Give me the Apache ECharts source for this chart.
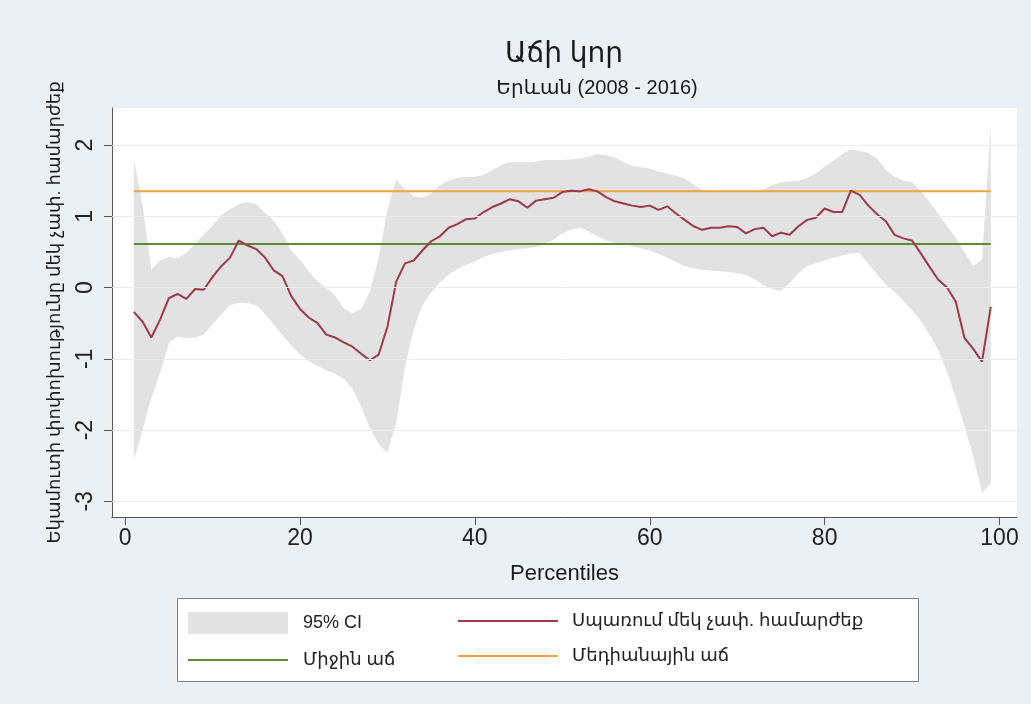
<!DOCTYPE html>
<html>
<head>
<meta charset="utf-8">
<script src="https://cdn.jsdelivr.net/npm/echarts@6/dist/echarts.min.js"></script>
<style>
html,body{margin:0;padding:0;background:#eaf0f3;}
#c{width:1031px;height:704px;}
</style>
</head>
<body>
<div id="c"></div>
<script>
// ---- data ----
const percentiles = [1,2,3,4,5,6,7,8,9,10,11,12,13,14,15,16,17,18,19,20,21,22,23,24,25,26,27,28,29,30,31,32,33,34,35,36,37,38,39,40,41,42,43,44,45,46,47,48,49,50,51,52,53,54,55,56,57,58,59,60,61,62,63,64,65,66,67,68,69,70,71,72,73,74,75,76,77,78,79,80,81,82,83,84,85,86,87,88,89,90,91,92,93,94,95,96,97,98,99];
const growth = [-0.34,-0.48,-0.70,-0.45,-0.15,-0.09,-0.16,-0.02,-0.03,0.15,0.30,0.42,0.66,0.59,0.54,0.42,0.24,0.16,-0.12,-0.30,-0.42,-0.50,-0.66,-0.70,-0.77,-0.83,-0.93,-1.02,-0.94,-0.55,0.08,0.34,0.38,0.52,0.65,0.72,0.84,0.89,0.96,0.97,1.06,1.13,1.18,1.24,1.21,1.12,1.22,1.24,1.26,1.34,1.36,1.35,1.38,1.35,1.27,1.21,1.18,1.15,1.13,1.15,1.09,1.14,1.04,0.95,0.86,0.81,0.84,0.84,0.86,0.85,0.76,0.82,0.84,0.72,0.77,0.74,0.86,0.95,0.98,1.11,1.06,1.06,1.36,1.30,1.15,1.03,0.93,0.74,0.69,0.66,0.48,0.29,0.11,0.00,-0.20,-0.71,-0.86,-1.04,-0.27];
const ciUpper = [1.80,1.15,0.25,0.38,0.43,0.41,0.49,0.61,0.74,0.87,1.02,1.10,1.17,1.20,1.17,1.05,0.94,0.76,0.52,0.39,0.23,0.09,0.00,-0.11,-0.29,-0.36,-0.30,-0.05,0.42,1.10,1.52,1.38,1.28,1.26,1.32,1.44,1.50,1.54,1.55,1.56,1.58,1.65,1.72,1.76,1.76,1.76,1.77,1.79,1.79,1.79,1.80,1.81,1.84,1.87,1.86,1.83,1.76,1.71,1.69,1.67,1.63,1.60,1.57,1.53,1.45,1.37,1.36,1.35,1.34,1.34,1.34,1.35,1.38,1.44,1.48,1.49,1.50,1.54,1.60,1.70,1.78,1.87,1.94,1.92,1.89,1.81,1.65,1.55,1.50,1.48,1.36,1.20,1.04,0.86,0.70,0.50,0.30,0.40,2.28];
const ciLower = [-2.42,-2.00,-1.55,-1.20,-0.78,-0.69,-0.71,-0.70,-0.66,-0.52,-0.37,-0.25,-0.21,-0.22,-0.25,-0.37,-0.52,-0.67,-0.81,-0.94,-1.03,-1.10,-1.16,-1.21,-1.28,-1.42,-1.67,-1.97,-2.20,-2.32,-1.90,-1.12,-0.58,-0.25,-0.07,0.07,0.18,0.26,0.32,0.37,0.43,0.47,0.50,0.52,0.54,0.55,0.57,0.62,0.67,0.76,0.81,0.84,0.79,0.72,0.66,0.63,0.61,0.58,0.55,0.52,0.47,0.42,0.36,0.30,0.27,0.25,0.24,0.23,0.22,0.20,0.18,0.12,0.03,-0.02,-0.05,0.06,0.20,0.30,0.34,0.38,0.42,0.45,0.48,0.48,0.33,0.19,0.04,-0.06,-0.18,-0.32,-0.47,-0.66,-0.88,-1.18,-1.55,-1.95,-2.37,-2.88,-2.75];
const meanGrowth = 0.61;
const medianGrowth = 1.35;
const lineRange = [1, 99];
const xTicks = [0, 20, 40, 60, 80, 100];
const yTicks = [-3, -2, -1, 0, 1, 2];

const titleText = 'Աճի կոր';
const subtitleText = 'Երևան (2008 - 2016)';
const xName = 'Percentiles';
const yName = 'Եկամուտի փոփոխությունը մեկ չափ. համարժեք';
const nameCI = '95% CI';
const nameCurve = 'Սպառում մեկ չափ. համարժեք';
const nameMean = 'Միջին աճ';
const nameMedian = 'Մեդիանային աճ';

// ---- build ----
const FONT = "'Liberation Sans','DejaVu Sans',sans-serif";
const curveData = percentiles.map((p, i) => [p, growth[i]]);
const meanData = lineRange.map(p => [p, meanGrowth]);
const medianData = lineRange.map(p => [p, medianGrowth]);
const CI_COLOR = '#e2e2e2';
const LINE_ICON = 'path://M0,0 L100,0 L100,2 L0,2 Z';

const chart = echarts.init(document.getElementById('c'), null, {renderer: 'canvas'});
chart.setOption({
  animation: false,
  backgroundColor: '#eaf0f3',
  title: [
    {text: titleText, left: 564, textAlign: 'center', top: 40, padding: 0,
     textStyle: {fontFamily: FONT, fontSize: 28, fontWeight: 'normal', color: '#1a1a1a'}},
    {text: subtitleText, left: 597, textAlign: 'center', top: 78, padding: 0,
     textStyle: {fontFamily: FONT, fontSize: 20, fontWeight: 'normal', color: '#1a1a1a'}}
  ],
  grid: {left: 112, right: 14, top: 108, bottom: 187, show: true, backgroundColor: '#ffffff', borderWidth: 0},
  xAxis: {
    type: 'value', min: -1.5, max: 102,
    name: xName, nameLocation: 'middle', nameGap: 46,
    nameTextStyle: {fontFamily: FONT, fontSize: 22, color: '#1a1a1a'},
    axisLine: {onZero: false, lineStyle: {color: '#555', width: 1}},
    axisTick: {show: true, length: 8, customValues: xTicks, lineStyle: {color: '#555'}},
    axisLabel: {customValues: xTicks, fontFamily: FONT, fontSize: 23, color: '#222', margin: 10},
    splitLine: {show: false}
  },
  yAxis: {
    type: 'value', min: -3.22, max: 2.52,
    name: yName, nameLocation: 'middle', nameRotate: 90, nameGap: 48,
    nameTextStyle: {fontFamily: FONT, fontSize: 18, color: '#1a1a1a'},
    axisLine: {show: true, onZero: false, lineStyle: {color: '#555', width: 1}},
    axisTick: {show: true, length: 8, customValues: yTicks, lineStyle: {color: '#555'}},
    axisLabel: {customValues: yTicks, rotate: 90, fontFamily: FONT, fontSize: 23, color: '#222', margin: 15},
    splitLine: {show: false}
  },
  legend: [
    {orient: 'vertical', left: 183, top: 607, itemWidth: 100, itemHeight: 22, itemGap: 17, z: 10,
     textStyle: {fontFamily: FONT, fontSize: 18, color: '#222', padding: [0, 0, 0, 10]},
     data: [{name: nameCI, icon: 'rect', itemStyle: {color: CI_COLOR}}, {name: nameMean, icon: LINE_ICON}]},
    {orient: 'vertical', left: 453, top: 607, itemWidth: 100, itemHeight: 22, itemGap: 17, z: 10,
     textStyle: {fontFamily: FONT, fontSize: 18, color: '#222', padding: [0, 0, 0, 9]},
     data: [{name: nameCurve, icon: LINE_ICON}, {name: nameMedian, icon: LINE_ICON}]}
  ],
  graphic: [
    {type: 'rect', z: 0, shape: {x: 177.5, y: 598.5, width: 741, height: 83},
     style: {fill: '#ffffff', stroke: '#7d7d7d', lineWidth: 1}}
  ],
  series: [
    {name: 'grid', type: 'line', data: [], z: 0, silent: true,
     markLine: {silent: true, symbol: ['none', 'none'], label: {show: false},
       lineStyle: {color: '#ebebeb', type: 'solid', width: 1},
       data: yTicks.map(v => ({yAxis: v}))}},
    {name: nameCI, type: 'custom', z: 1, silent: true,
     itemStyle: {color: CI_COLOR},
     data: [[50, 0]],
     renderItem: function (params, api) {
       const pts = [];
       for (let i = 0; i < percentiles.length; i++) pts.push(api.coord([percentiles[i], ciUpper[i]]));
       for (let i = percentiles.length - 1; i >= 0; i--) pts.push(api.coord([percentiles[i], ciLower[i]]));
       return {type: 'polygon', shape: {points: pts}, style: {fill: CI_COLOR}};
     }},
    {name: nameMean, type: 'line', data: meanData, symbol: 'none', z: 3, color: '#5b8a3c',
     lineStyle: {color: '#5b8a3c', width: 2}},
    {name: nameMedian, type: 'line', data: medianData, symbol: 'none', z: 3, color: '#eea43c',
     lineStyle: {color: '#eea43c', width: 2}},
    {name: nameCurve, type: 'line', data: curveData, symbol: 'none', z: 4, color: '#9c3a4b',
     lineStyle: {color: '#9c3a4b', width: 2}}
  ]
});
</script>
</body>
</html>
